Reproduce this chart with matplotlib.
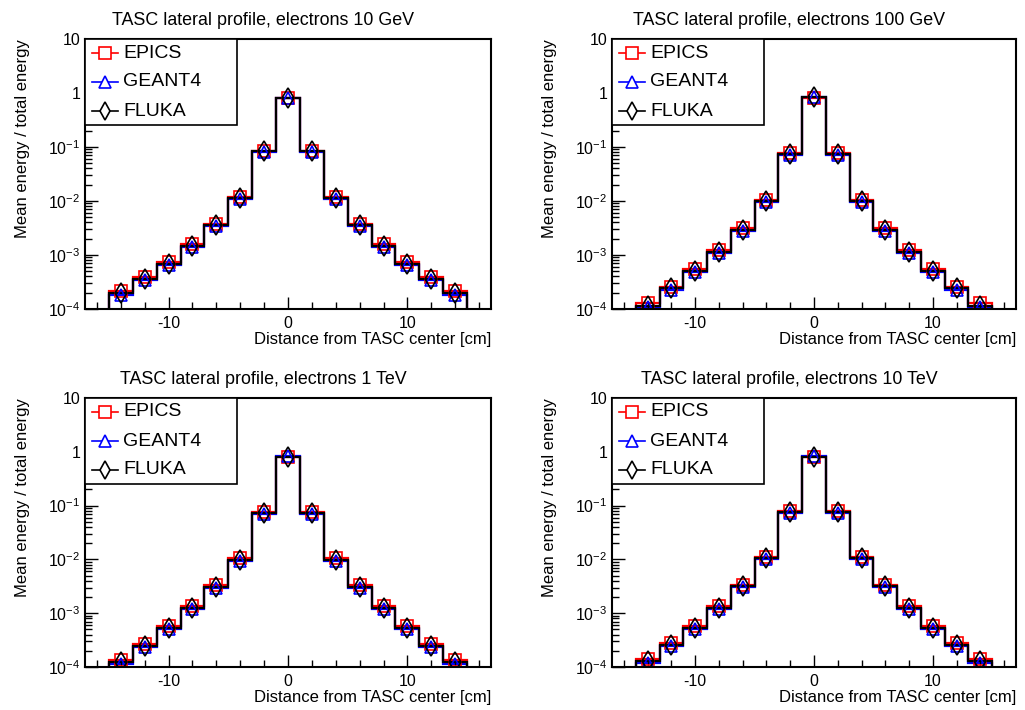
import numpy as np
import matplotlib
matplotlib.use("Agg")
import matplotlib.pyplot as plt
from matplotlib.patches import Rectangle
from matplotlib.ticker import FixedLocator, FuncFormatter, LogLocator, NullFormatter

plt.rcParams['font.family'] = ['Liberation Sans', 'DejaVu Sans']
plt.rcParams['mathtext.fontset'] = 'custom'
plt.rcParams['mathtext.rm'] = 'Liberation Sans'
plt.rcParams['axes.unicode_minus'] = False

# bins of 2 cm, centred at -14 ... 14
edges = np.arange(-15, 16, 2)
centers = np.arange(-14, 15, 2)

titles = ["TASC lateral profile, electrons 10 GeV",
          "TASC lateral profile, electrons 100 GeV",
          "TASC lateral profile, electrons 1 TeV",
          "TASC lateral profile, electrons 10 TeV"]

# 10 GeV
epics_10gev = [2.15e-4, 3.9e-4, 7.5e-4, 1.58e-3, 3.8e-3, 1.18e-2, 8.6e-2, 0.80,
               8.6e-2, 1.18e-2, 3.8e-3, 1.58e-3, 7.5e-4, 3.9e-4, 2.15e-4]
geant4_10gev = [1.85e-4, 3.4e-4, 6.5e-4, 1.38e-3, 3.4e-3, 1.07e-2, 8.0e-2, 0.82,
                8.0e-2, 1.07e-2, 3.4e-3, 1.38e-3, 6.5e-4, 3.4e-4, 1.85e-4]
fluka_10gev = [1.95e-4, 3.6e-4, 6.9e-4, 1.47e-3, 3.55e-3, 1.12e-2, 8.3e-2, 0.81,
               8.3e-2, 1.12e-2, 3.55e-3, 1.47e-3, 6.9e-4, 3.6e-4, 1.95e-4]

# 100 GeV
epics_100gev = [1.27e-4, 2.6e-4, 5.4e-4, 1.24e-3, 3.1e-3, 1.05e-2, 7.6e-2, 0.82,
                7.6e-2, 1.05e-2, 3.1e-3, 1.24e-3, 5.4e-4, 2.6e-4, 1.27e-4]
geant4_100gev = [1.09e-4, 2.28e-4, 4.75e-4, 1.09e-3, 2.75e-3, 9.4e-3, 7.0e-2, 0.84,
                 7.0e-2, 9.4e-3, 2.75e-3, 1.09e-3, 4.75e-4, 2.28e-4, 1.09e-4]
fluka_100gev = [1.15e-4, 2.4e-4, 5.0e-4, 1.15e-3, 2.9e-3, 9.9e-3, 7.3e-2, 0.83,
                7.3e-2, 9.9e-3, 2.9e-3, 1.15e-3, 5.0e-4, 2.4e-4, 1.15e-4]

# 1 TeV
epics_1tev = [1.33e-4, 2.65e-4, 5.7e-4, 1.35e-3, 3.3e-3, 1.04e-2, 7.7e-2, 0.81,
              7.7e-2, 1.04e-2, 3.3e-3, 1.35e-3, 5.7e-4, 2.65e-4, 1.33e-4]
geant4_1tev = [1.15e-4, 2.32e-4, 5.0e-4, 1.18e-3, 2.95e-3, 9.3e-3, 7.1e-2, 0.825,
               7.1e-2, 9.3e-3, 2.95e-3, 1.18e-3, 5.0e-4, 2.32e-4, 1.15e-4]
fluka_1tev = [1.22e-4, 2.45e-4, 5.3e-4, 1.25e-3, 3.1e-3, 9.8e-3, 7.4e-2, 0.815,
              7.4e-2, 9.8e-3, 3.1e-3, 1.25e-3, 5.3e-4, 2.45e-4, 1.22e-4]

# 10 TeV
epics_10tev = [1.40e-4, 2.75e-4, 5.8e-4, 1.35e-3, 3.4e-3, 1.11e-2, 7.9e-2, 0.80,
               7.9e-2, 1.11e-2, 3.4e-3, 1.35e-3, 5.8e-4, 2.75e-4, 1.40e-4]
geant4_10tev = [1.21e-4, 2.42e-4, 5.1e-4, 1.18e-3, 3.05e-3, 1.0e-2, 7.3e-2, 0.82,
                7.3e-2, 1.0e-2, 3.05e-3, 1.18e-3, 5.1e-4, 2.42e-4, 1.21e-4]
fluka_10tev = [1.28e-4, 2.55e-4, 5.4e-4, 1.25e-3, 3.2e-3, 1.05e-2, 7.6e-2, 0.81,
               7.6e-2, 1.05e-2, 3.2e-3, 1.25e-3, 5.4e-4, 2.55e-4, 1.28e-4]

panels = [(epics_10gev, geant4_10gev, fluka_10gev),
          (epics_100gev, geant4_100gev, fluka_100gev),
          (epics_1tev, geant4_1tev, fluka_1tev),
          (epics_10tev, geant4_10tev, fluka_10tev)]

labels = ["EPICS", "GEANT4", "FLUKA"]
colors = ["red", "blue", "black"]
markers = ["s", "^", "d"]

# axes rectangles in pixels (left, top, right, bottom) on a 1025x710 canvas
W, H = 1025, 710
boxes = [(85, 39, 491, 309), (612, 39, 1016, 309),
         (85, 398, 491, 667), (612, 398, 1016, 667)]


def ytick_fmt(v, pos):
    if v >= 10:
        return "10"
    if v >= 1:
        return "1"
    return r"$\mathregular{10^{%d}}$" % int(round(np.log10(v)))


fig = plt.figure(figsize=(W / 100, H / 100), dpi=100)

for (l, t, r, b), title, data in zip(boxes, titles, panels):
    aw, ah = r - l, b - t
    ax = fig.add_axes([l / W, 1 - b / H, aw / W, ah / H])
    for vals, c, m in zip(data, colors, markers):
        ax.stairs(vals, edges, baseline=1e-6, color=c, lw=1.6)
        ax.plot(centers, vals, linestyle='none', marker=m, mfc='none',
                mec=c, mew=1.2, ms=10 if m == 'd' else 9)
    ax.set_yscale('log')
    ax.set_xlim(-17, 17)
    ax.set_ylim(1e-4, 10)

    ax.xaxis.set_major_locator(FixedLocator([-10, 0, 10]))
    ax.xaxis.set_minor_locator(FixedLocator(np.arange(-16, 17, 2)))
    ax.yaxis.set_major_locator(LogLocator(base=10, numticks=10))
    ax.yaxis.set_minor_locator(LogLocator(base=10, subs=np.arange(2, 10), numticks=20))
    ax.yaxis.set_major_formatter(FuncFormatter(ytick_fmt))
    ax.yaxis.set_minor_formatter(NullFormatter())
    ax.tick_params(which='both', direction='in', top=False, right=False,
                   labelsize=11.5, width=1.0)
    ax.tick_params(which='major', length=9)
    ax.tick_params(which='minor', length=5)
    ax.tick_params(axis='x', pad=5)
    for s in ax.spines.values():
        s.set_linewidth(1.5)

    ax.set_xlabel("Distance from TASC center [cm]", fontsize=12, loc='right')
    ax.xaxis.set_label_coords(1.0, -0.085)
    ax.set_ylabel("Mean energy / total energy", fontsize=12, loc='top')
    ax.yaxis.set_label_coords(-0.135, 1.0)
    ax.text(0.438, 1.052, title, transform=ax.transAxes, ha='center',
            va='baseline', fontsize=12.9)

    # ROOT-style legend box, fixed size in the upper-left corner
    tr = ax.transAxes
    ax.add_patch(Rectangle((0, 1 - 86 / ah), 152 / aw, 86 / ah, transform=tr,
                           facecolor='white', edgecolor='black', lw=1.2,
                           zorder=5, clip_on=False))
    for i, (lab, c, m) in enumerate(zip(labels, colors, markers)):
        yy = 1 - (14 + 29 * i) / ah
        ax.plot([7 / aw, 33 / aw], [yy, yy], transform=tr, color=c, lw=1.2,
                zorder=6, clip_on=False)
        ax.plot([20 / aw], [yy], transform=tr, marker=m, mfc='white', mec=c,
                mew=1.2, ms=9 if m == 'd' else 8, zorder=7, clip_on=False)
        ax.text(38 / aw, yy, lab, transform=tr, fontsize=14, va='center',
                ha='left', zorder=7)

plt.savefig("out.png", dpi=100)
